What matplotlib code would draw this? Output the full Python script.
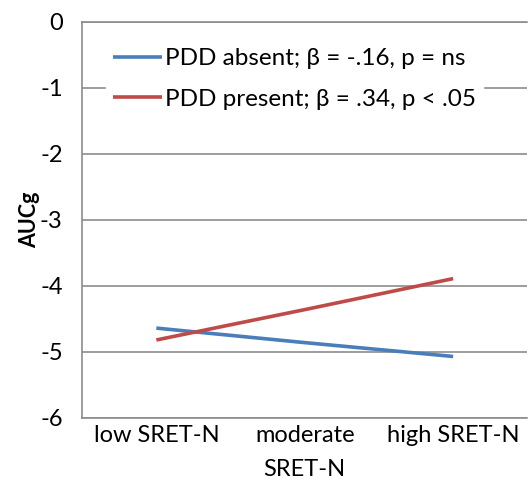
import matplotlib
matplotlib.use('Agg')
import matplotlib.pyplot as plt

# Data
categories = ['low SRET-N', 'moderate\nSRET-N', 'high SRET-N']
pdd_absent = [-4.64, -4.86, -5.07]
pdd_present = [-4.82, -4.36, -3.89]
labels = ['PDD absent; β = -.16, p = ns', 'PDD present; β = .34, p < .05']
yticks = [0, -1, -2, -3, -4, -5, -6]

plt.rcParams['font.family'] = ['Lato', 'DejaVu Sans']

fig = plt.figure(figsize=(5.3, 4.87), dpi=100)
ax = fig.add_axes([0.155, 0.142, 0.84, 0.813])

x = range(len(categories))
ax.plot(x, pdd_absent, color='#4a7ebb', linewidth=2.6, label=labels[0], solid_capstyle='butt')
ax.plot(x, pdd_present, color='#be4b48', linewidth=2.6, label=labels[1], solid_capstyle='butt')

ax.set_xlim(-0.5, 2.5)
ax.set_ylim(-6, 0)
ax.set_yticks(yticks)
ax.set_yticklabels([str(t) for t in yticks])
ax.set_xticks(list(x))
ax.set_xticklabels(categories)
for lbl in ax.get_xticklabels():
    lbl.set_linespacing(1.75)
ax.yaxis.grid(True, color='#8c8c8c', linewidth=1.2)
ax.set_axisbelow(True)

ax.spines['right'].set_visible(False)
for side in ['left', 'bottom', 'top']:
    ax.spines[side].set_color('#8c8c8c')
    ax.spines[side].set_linewidth(1.2)

ax.tick_params(axis='both', length=0, labelsize=17, colors='black')
ax.tick_params(axis='y', pad=14)
ax.tick_params(axis='x', pad=5)
ax.set_ylabel('AUCg', fontsize=15.5, fontweight='bold', labelpad=0)

leg = ax.legend(loc='upper left', bbox_to_anchor=(0.054, 0.952), frameon=True,
                fontsize=17.5, handlelength=2.0, handletextpad=0.1,
                labelspacing=0.8, borderpad=0.3, borderaxespad=0)
leg.get_frame().set_edgecolor('white')
leg.get_frame().set_facecolor('white')
leg.get_frame().set_alpha(1)
leg.get_frame().set_boxstyle('square', pad=0)

fig.savefig('out.png', dpi=100)
